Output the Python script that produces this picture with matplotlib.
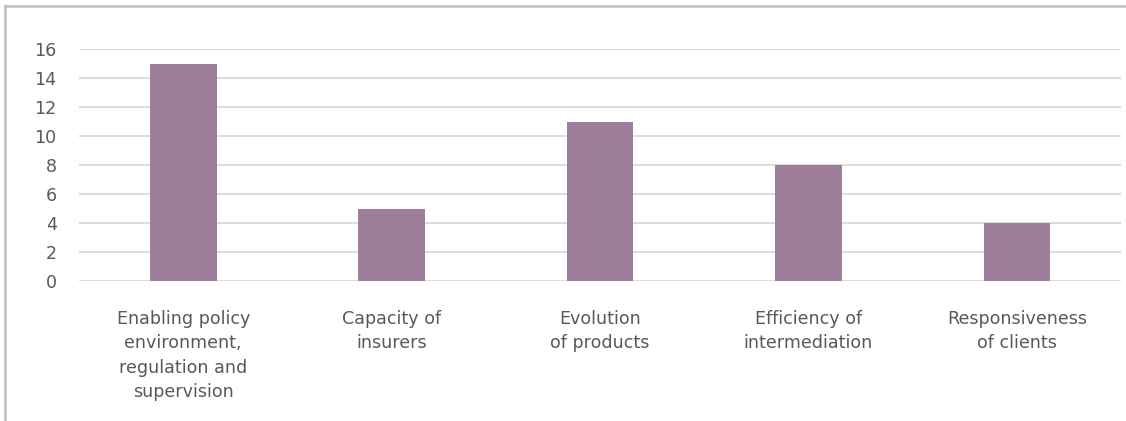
import matplotlib.pyplot as plt
from matplotlib.lines import Line2D

categories = ["Enabling policy\nenvironment,\nregulation and\nsupervision",
              "Capacity of\ninsurers",
              "Evolution\nof products",
              "Efficiency of\nintermediation",
              "Responsiveness\nof clients"]
values = [15, 5, 11, 8, 4]
yticks = [0, 2, 4, 6, 8, 10, 12, 14, 16]

plt.rcParams['font.family'] = ['DejaVu Sans']

fig = plt.figure(figsize=(11.26, 4.21), dpi=100)
ax = fig.add_axes([0.0702, 0.3325, 0.9254, 0.5511])

x = range(len(values))
ax.bar(x, values, width=0.32, color='#9e7e9a', zorder=3)

ax.set_xlim(-0.5, len(values) - 0.5)
ax.set_ylim(0, 16)
ax.set_yticks(yticks)
ax.set_xticks(list(x))
ax.set_xticklabels(categories, linespacing=1.45, va='top')
ax.tick_params(axis='both', length=0, labelsize=12.6, labelcolor='#595959')
ax.tick_params(axis='y', pad=16)
ax.tick_params(axis='x', pad=21)
ax.grid(axis='y', color='#d9d9d9', linewidth=1.3, zorder=0)
for s in ax.spines.values():
    s.set_visible(False)

# outer chart frame (top and left visible)
fig.add_artist(Line2D([5/1126, 1], [1 - 6/421, 1 - 6/421], color='#bfbfbf', linewidth=1.8, transform=fig.transFigure))
fig.add_artist(Line2D([5/1126, 5/1126], [0, 1 - 6/421], color='#bfbfbf', linewidth=1.8, transform=fig.transFigure))

fig.savefig('out.png', dpi=100)
